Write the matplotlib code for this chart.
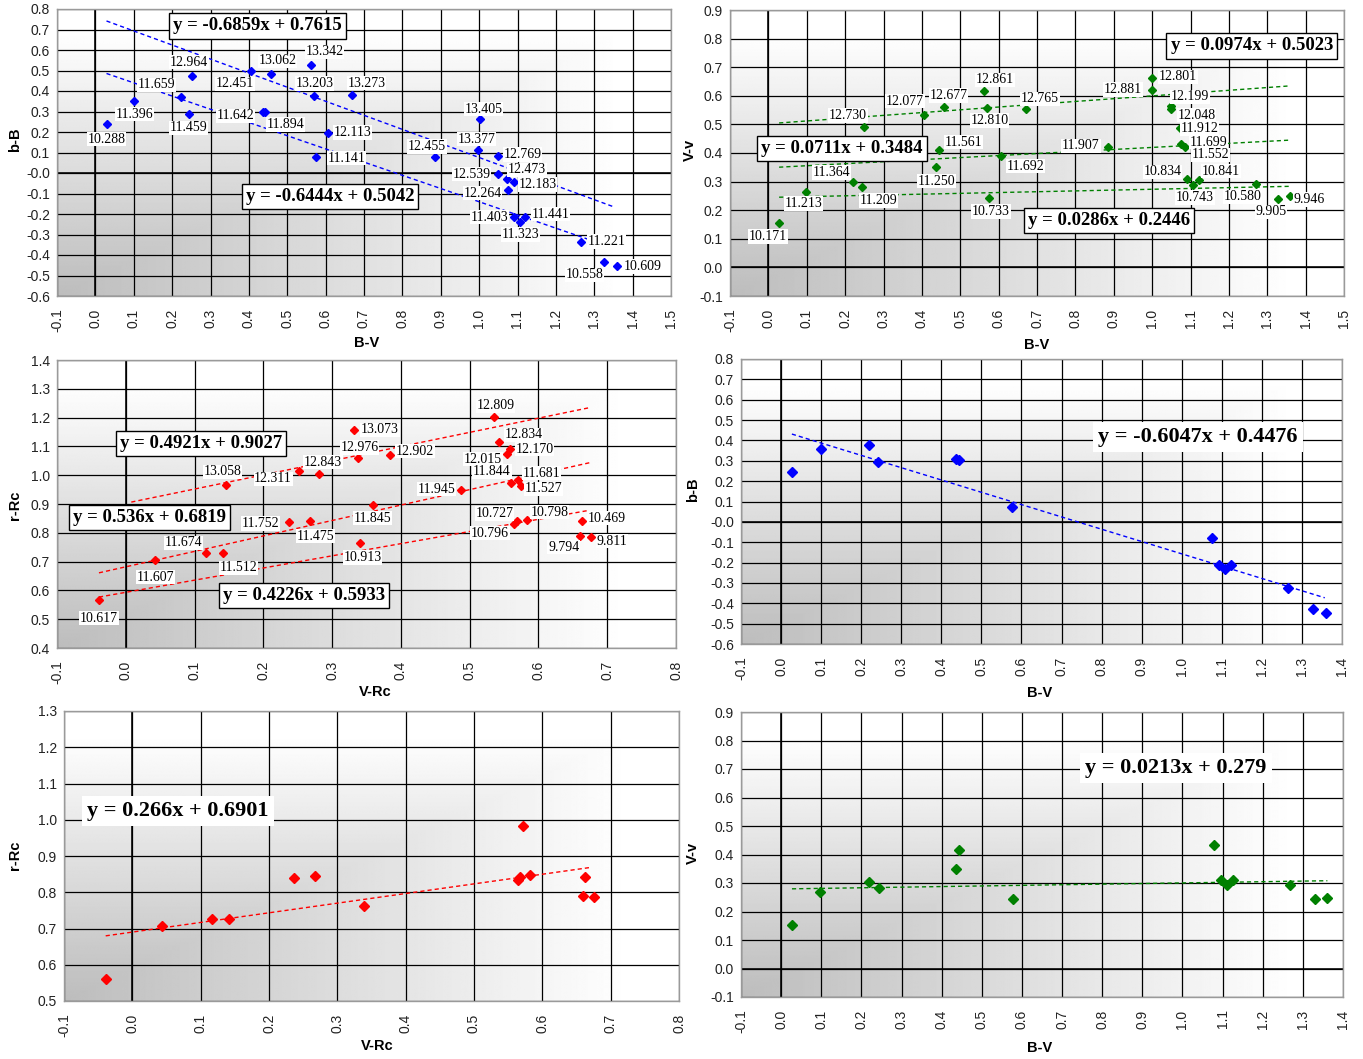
import numpy as np
import matplotlib
matplotlib.use("Agg")
import matplotlib.pyplot as plt

plt.rcParams["axes.unicode_minus"] = False

# ---------------- data ----------------
# b-B versus B-V, labelled with instrumental magnitudes
tl_bv = [0.029, 0.100, 0.223, 0.251, 0.243, 0.406, 0.457, 0.436, 0.443, 0.563,
         0.569, 0.576, 0.607, 0.670, 1.001, 0.885, 0.998, 1.050, 1.050, 1.072,
         1.090, 1.074, 1.092, 1.120, 1.107, 1.265, 1.326, 1.359]
tl_bB = [0.238, 0.351, 0.372, 0.473, 0.288, 0.499, 0.483, 0.299, 0.296, 0.527,
         0.374, 0.078, 0.197, 0.380, 0.263, 0.080, 0.112, 0.081, -0.006, -0.029,
         -0.042, -0.083, -0.215, -0.216, -0.237, -0.335, -0.434, -0.452]
tl_mag = ["10.288", "11.396", "11.659", "12.964", "11.459", "12.451", "13.062",
          "11.642", "11.894", "13.342", "13.203", "11.141", "12.113", "13.273",
          "13.405", "12.455", "13.377", "12.769", "12.539", "12.473", "12.183",
          "12.264", "11.403", "11.441", "11.323", "11.221", "10.558", "10.609"]
tl_slope = [-0.6859, -0.6444]
tl_icept = [0.7615, 0.5042]
tl_span = [[0.029, 1.35], [0.029, 1.35]]

# V-v versus B-V
tr_bv = [0.028, 0.099, 0.221, 0.245, 0.249, 0.406, 0.457, 0.445, 0.438, 0.562,
         0.571, 0.575, 0.605, 0.671, 0.885, 1.000, 1.000, 1.050, 1.050, 1.072,
         1.074, 1.085, 1.092, 1.107, 1.122, 1.270, 1.328, 1.360]
tr_Vv = [0.154, 0.265, 0.300, 0.280, 0.492, 0.532, 0.562, 0.410, 0.350, 0.617,
         0.556, 0.244, 0.389, 0.554, 0.422, 0.663, 0.622, 0.565, 0.553, 0.486,
         0.431, 0.422, 0.310, 0.287, 0.305, 0.292, 0.240, 0.248]
tr_mag = ["10.171", "11.213", "11.364", "11.209", "12.730", "12.077", "12.677",
          "11.561", "11.250", "12.861", "12.810", "10.733", "11.692", "12.765",
          "11.907", "12.801", "12.881", "12.199", "12.048", "11.912", "11.699",
          "11.552", "10.834", "10.743", "10.841", "10.580", "9.905", "9.946"]
tr_slope = [0.0974, 0.0711, 0.0286]
tr_icept = [0.5023, 0.3484, 0.2446]
tr_span = [[0.028, 1.357], [0.028, 1.357], [0.028, 1.357]]

# r-Rc versus V-Rc
ml_vr = [-0.039, 0.043, 0.117, 0.142, 0.146, 0.237, 0.268, 0.252, 0.281, 0.337,
         0.332, 0.341, 0.359, 0.384, 0.488, 0.536, 0.542, 0.558, 0.554, 0.560,
         0.571, 0.574, 0.565, 0.569, 0.584, 0.663, 0.660, 0.676]
ml_rR = [0.566, 0.705, 0.730, 0.730, 0.966, 0.839, 0.840, 1.015, 1.004, 1.058,
         1.157, 0.766, 0.896, 1.070, 0.948, 1.203, 1.116, 1.090, 1.073, 0.974,
         0.983, 0.963, 0.832, 0.840, 0.844, 0.840, 0.788, 0.785]
ml_mag = ["10.617", "11.607", "11.674", "11.512", "13.058", "11.752", "11.475",
          "12.311", "12.843", "12.976", "13.073", "10.913", "11.845", "12.902",
          "11.945", "12.809", "12.834", "12.170", "12.015", "11.844", "11.681",
          "11.527", "10.727", "10.796", "10.798", "10.469", "9.794", "9.811"]
ml_slope = [0.4921, 0.536, 0.4226]
ml_icept = [0.9027, 0.6819, 0.5933]
ml_span = [[0.008, 0.674], [-0.039, 0.674], [-0.039, 0.674]]

# b-B versus B-V, single set
mr_bv = [0.027, 0.099, 0.220, 0.243, 0.437, 0.444, 0.576, 1.076, 1.094, 1.108,
         1.123, 1.266, 1.327, 1.360]
mr_bB = [0.247, 0.357, 0.378, 0.293, 0.311, 0.304, 0.074, -0.077, -0.211, -0.234,
         -0.213, -0.327, -0.429, -0.447]
mr_slope = [-0.6047]
mr_icept = [0.4476]
mr_span = [[0.027, 1.357]]

# r-Rc versus V-Rc, single set
bl_vr = [-0.039, 0.043, 0.116, 0.142, 0.237, 0.268, 0.339, 0.564, 0.567, 0.571,
         0.582, 0.659, 0.663, 0.675]
bl_rR = [0.561, 0.706, 0.725, 0.725, 0.840, 0.844, 0.763, 0.834, 0.841, 0.983,
         0.847, 0.790, 0.841, 0.786]
bl_slope = [0.266]
bl_icept = [0.6901]
bl_span = [[-0.039, 0.672]]

# V-v versus B-V, single set
br_bv = [0.027, 0.098, 0.219, 0.243, 0.435, 0.443, 0.578, 1.078, 1.096, 1.110,
         1.125, 1.269, 1.330, 1.361]
br_Vv = [0.153, 0.269, 0.302, 0.281, 0.350, 0.415, 0.243, 0.433, 0.311, 0.294,
         0.310, 0.294, 0.243, 0.248]
br_slope = [0.0213]
br_icept = [0.279]
br_span = [[0.027, 1.361]]

# ---------------- label placement (pixel offsets, +y downwards) ----------------
tl_off = [(0, 15), (1, 13), (-24, -12), (-3, -14), (0, 14), (-16, 13), (7, -13),
          (-27, 4), (20, 12), (13, -13), (1, -13), (30, 1), (24, 0), (14, -12),
          (4, -10), (-8, -10), (-2, -11), (24, -2), (-27, 0), (20, -9), (24, 3),
          (-25, 3), (-25, 0), (25, -3), (0, 13), (26, 0), (-20, 13), (26, 1)]
tr_off = [(-11, 13), (-3, 12), (-22, -9), (16, 13), (-16, -11), (-19, -14), (5, -11),
          (24, -8), (0, 14), (11, -11), (2, 12), (2, 14), (25, 10), (14, -10),
          (-27, -1), (26, -1), (-29, 0), (19, -9), (25, 6), (20, 0), (28, -2),
          (26, 8), (-25, -7), (2, 12), (22, -9), (-13, 13), (-7, 13), (19, 3)]
ml_off = [(0, 18), (0, 17), (-23, -10), (15, 15), (-4, -13), (-28, 2), (5, 15),
          (-26, 8), (4, -12), (2, -11), (26, 0), (2, 15), (0, 13), (25, -4),
          (-25, -1), (1, -11), (25, -7), (25, 0), (-24, 5), (-19, -11), (23, -7),
          (23, 3), (-20, -10), (-27, 12), (22, -8), (25, -3), (-16, 11), (21, 4)]

W, H = 1363, 1059
fig = plt.figure(figsize=(W / 100, H / 100), dpi=100)
fig.patch.set_facecolor("white")

SANS = "Liberation Sans"
SERIF = "Liberation Serif"


def fx(px):
    return px / W


def fy(py):
    return 1 - py / H


def panel(box, xlim, ylim):
    l, t, r, b = box
    ax = fig.add_axes([fx(l), fy(b), (r - l) / W, (b - t) / H])
    ax.set_xlim(*xlim)
    ax.set_ylim(*ylim)
    # shaded backdrop: grey in the lower-left corner fading to white
    u = np.linspace(0, 1, 400)[None, :]
    v = np.linspace(0, 1, 300)[:, None]
    t_ = np.maximum(u, v)
    shade = 0.74 + 0.26 * np.clip(t_ / 0.92, 0, 1)
    ax.imshow(shade, extent=(xlim[0], xlim[1], ylim[0], ylim[1]), origin="lower",
              aspect="auto", cmap="gray", vmin=0, vmax=1, zorder=0,
              interpolation="bilinear")
    xt = np.round(np.arange(xlim[0], xlim[1] + 1e-9, 0.1), 1)
    yt = np.round(np.arange(ylim[0], ylim[1] + 1e-9, 0.1), 1)
    ax.set_xticks(xt)
    ax.set_yticks(yt)
    ax.set_xticklabels([f"{v_:.1f}" for v_ in xt], rotation=90, fontfamily=SANS,
                       fontsize=10, color="#222222")
    ax.set_yticklabels([f"{v_:.1f}" for v_ in yt], fontfamily=SANS, fontsize=10,
                       color="#222222")
    ax.tick_params(length=0, pad=9, axis="x")
    ax.tick_params(length=0, pad=5, axis="y")
    ax.grid(True, color="black", lw=0.9)
    ax.set_axisbelow(True)
    if ylim[0] < 0 < ylim[1]:
        ax.axhline(0, color="black", lw=1.15, zorder=0.6)
    ax.axvline(0, color="black", lw=1.15, zorder=0.6)
    for s in ax.spines.values():
        s.set_color("#9a9a9a")
        s.set_linewidth(1.0)
    return ax


def fits(ax, slopes, icepts, spans, color):
    for m, c, sp in zip(slopes, icepts, spans):
        xs = np.array(sp)
        ax.plot(xs, m * xs + c, color=color, lw=1.0, dashes=(3, 2.2), zorder=3)


def eq_box(slope, icept, cx, cy, size, border=True):
    txt = f"y = {slope:g}x + {icept:g}"
    fig.text(fx(cx), fy(cy), txt, ha="center", va="center", fontfamily=SERIF,
             fontweight="bold", fontsize=size, zorder=10,
             bbox=dict(boxstyle="square,pad=0.22", fc="white",
                       ec="black" if border else "none", lw=1.0))


def labels(ax, xs, ys, texts, offs):
    for x, y, s, (dx, dy) in zip(xs, ys, texts, offs):
        ax.annotate(s, (x, y), xytext=(dx, -dy), textcoords="offset pixels",
                    ha="center", va="center", fontfamily=SERIF, fontsize=10,
                    zorder=6, annotation_clip=False,
                    bbox=dict(boxstyle="square,pad=0.05", fc="white", ec="none"))


def axis_titles(xlabel, xpos, ylabel, ypos):
    fig.text(fx(xpos[0]), fy(xpos[1]), xlabel, ha="center", va="center",
             fontfamily=SANS, fontweight="bold", fontsize=10.5)
    fig.text(fx(ypos[0]), fy(ypos[1]), ylabel, ha="center", va="center",
             rotation=90, fontfamily=SANS, fontweight="bold", fontsize=10.5)


BLUE, GREEN, RED = "#0000ff", "#008000", "#ff0000"

# top left
ax = panel((57, 9, 671, 296), (-0.1, 1.5), (-0.6, 0.8))
fits(ax, tl_slope, tl_icept, tl_span, BLUE)
ax.plot(tl_bv, tl_bB, "D", color=BLUE, ms=4.2, mec=BLUE, zorder=5)
labels(ax, tl_bv, tl_bB, tl_mag, tl_off)
eq_box(tl_slope[0], tl_icept[0], 257.5, 26, 13.5)
eq_box(tl_slope[1], tl_icept[1], 330, 196.5, 13.5)
axis_titles("B-V", (367, 343), "b-B", (15, 140))

# top right
ax = panel((730, 10, 1344, 296), (-0.1, 1.5), (-0.1, 0.9))
fits(ax, tr_slope, tr_icept, tr_span, GREEN)
ax.plot(tr_bv, tr_Vv, "D", color=GREEN, ms=4.2, mec=GREEN, zorder=5)
labels(ax, tr_bv, tr_Vv, tr_mag, tr_off)
eq_box(tr_slope[0], tr_icept[0], 1251.8, 46, 13.5)
eq_box(tr_slope[1], tr_icept[1], 841.7, 148.7, 13.5)
eq_box(tr_slope[2], tr_icept[2], 1108.8, 220.7, 13.5)
axis_titles("B-V", (1037, 345), "V-v", (690, 150))

# middle left
ax = panel((57, 360, 676, 648), (-0.1, 0.8), (0.4, 1.4))
fits(ax, ml_slope, ml_icept, ml_span, RED)
ax.plot(ml_vr, ml_rR, "D", color=RED, ms=4.2, mec=RED, zorder=5)
labels(ax, ml_vr, ml_rR, ml_mag, ml_off)
eq_box(ml_slope[0], ml_icept[0], 200.8, 443.3, 13.5)
eq_box(ml_slope[1], ml_icept[1], 149.2, 517.5, 13.5)
eq_box(ml_slope[2], ml_icept[2], 303.7, 595.8, 13.5)
axis_titles("V-Rc", (375, 692), "r-Rc", (15, 505))

# middle right
ax = panel((741, 359, 1342, 644), (-0.1, 1.4), (-0.6, 0.8))
fits(ax, mr_slope, mr_icept, mr_span, BLUE)
ax.plot(mr_bv, mr_bB, "D", color=BLUE, ms=5.2, mec=BLUE, zorder=5)
eq_box(mr_slope[0], mr_icept[0], 1198, 437, 16, border=False)
axis_titles("B-V", (1040, 693), "b-B", (693, 490))

# bottom left
ax = panel((64, 711, 679, 1001), (-0.1, 0.8), (0.5, 1.3))
fits(ax, bl_slope, bl_icept, bl_span, RED)
ax.plot(bl_vr, bl_rR, "D", color=RED, ms=5.2, mec=RED, zorder=5)
eq_box(bl_slope[0], bl_icept[0], 178, 811, 16, border=False)
axis_titles("V-Rc", (377, 1046), "r-Rc", (15, 855))

# bottom right
ax = panel((741, 712, 1343, 997), (-0.1, 1.4), (-0.1, 0.9))
fits(ax, br_slope, br_icept, br_span, GREEN)
ax.plot(br_bv, br_Vv, "D", color=GREEN, ms=5.2, mec=GREEN, zorder=5)
eq_box(br_slope[0], br_icept[0], 1176, 768, 16, border=False)
axis_titles("B-V", (1040, 1048), "V-v", (693, 853))

fig.savefig("out.png", dpi=100, facecolor="white")
